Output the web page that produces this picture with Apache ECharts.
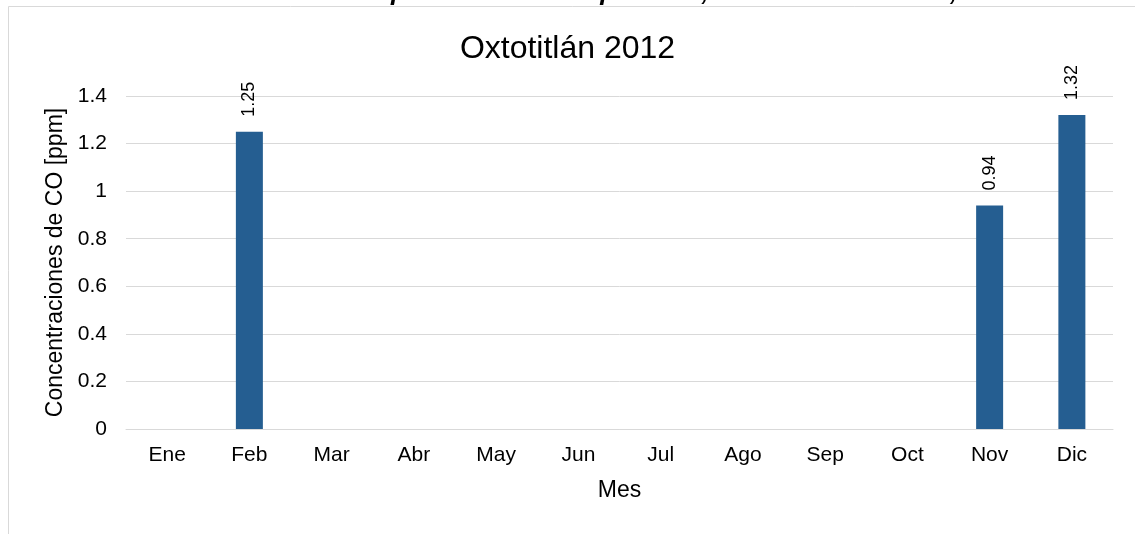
<!DOCTYPE html>
<html>
<head>
<meta charset="utf-8">
<script src="https://cdn.jsdelivr.net/npm/echarts@6/dist/echarts.min.js"></script>
<style>
  html, body { margin: 0; padding: 0; background: #fff; }
  #chart { width: 1135px; height: 534px; }
</style>
</head>
<body>
<div id="chart"></div>
<script>
const meses = ['Ene', 'Feb', 'Mar', 'Abr', 'May', 'Jun', 'Jul', 'Ago', 'Sep', 'Oct', 'Nov', 'Dic'];
const concentraciones = [null, 1.25, null, null, null, null, null, null, null, null, 0.94, 1.32];
const yTicks = [0, 0.2, 0.4, 0.6, 0.8, 1, 1.2, 1.4];

const fuente = '"Liberation Sans", Arial, sans-serif';
const chart = echarts.init(document.getElementById('chart'));

const option = {
  animation: false,
  backgroundColor: '#fff',
  title: {
    text: 'Oxtotitlán 2012',
    left: 'center',
    top: 28,
    textStyle: { fontFamily: fuente, fontSize: 32, fontWeight: 'normal', color: '#000' }
  },
  graphic: [
    {
      type: 'rect',
      shape: { x: 8.5, y: 6.5, width: 1140, height: 540 },
      style: { fill: 'none', stroke: '#d9d9d9', lineWidth: 1 },
      silent: true
    },
    {
      // título del documento, cortado por el borde superior
      type: 'text',
      x: 47,
      y: -20,
      style: {
        text: 'Gráfica 3. Concentraciones promedio de CO por mes, estación Oxtotitlán, año 2012',
        font: 'italic bold 26px "Liberation Sans", Arial, sans-serif',
        fill: '#000'
      }
    }
  ],
  grid: { left: 126, right: 22, top: 96, bottom: 105 },
  xAxis: {
    type: 'category',
    data: meses,
    name: 'Mes',
    nameLocation: 'middle',
    nameGap: 50,
    nameTextStyle: { fontFamily: fuente, fontSize: 23, color: '#000' },
    axisLine: { lineStyle: { color: '#d9d9d9', width: 1 } },
    axisTick: { show: false },
    axisLabel: { fontFamily: fuente, fontSize: 21, color: '#000', margin: 16 }
  },
  yAxis: {
    type: 'value',
    min: 0,
    max: 1.4,
    interval: 0.2,
    name: 'Concentraciones de CO [ppm]',
    nameLocation: 'middle',
    nameGap: 56,
    nameTextStyle: { fontFamily: fuente, fontSize: 23, color: '#000' },
    axisLine: { show: false },
    axisTick: { show: false },
    splitLine: { lineStyle: { color: '#d9d9d9', width: 1 } },
    axisLabel: {
      fontFamily: fuente, fontSize: 21, color: '#000', margin: 19,
      formatter: v => String(yTicks.find(t => Math.abs(t - v) < 1e-9) ?? v)
    }
  },
  series: [
    {
      type: 'bar',
      data: concentraciones,
      barWidth: 27,
      itemStyle: { color: '#255e91' },
      label: {
        show: true,
        position: 'top',
        rotate: 90,
        align: 'left',
        verticalAlign: 'middle',
        distance: 15,
        fontFamily: fuente,
        fontSize: 18,
        color: '#000'
      }
    }
  ]
};

chart.setOption(option);
window.addEventListener('resize', () => {
  chart.resize();
});
</script>
</body>
</html>
